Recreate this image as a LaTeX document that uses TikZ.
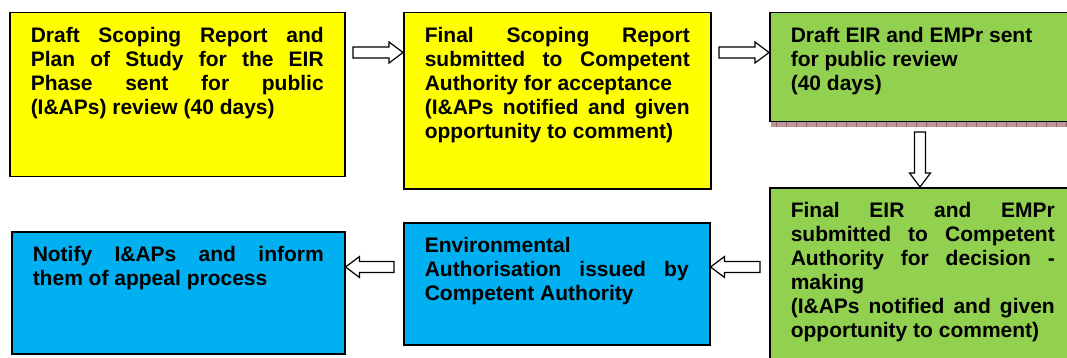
\documentclass[tikz,border=0pt]{standalone}
\usepackage{fontspec}
\setmainfont{Liberation Sans}
\usetikzlibrary{calc}

\definecolor{stageyellow}{RGB}{255,255,0}
\definecolor{stagegreen}{RGB}{146,208,80}
\definecolor{stageblue}{RGB}{0,176,240}
\definecolor{ledge}{RGB}{190,150,152}
\definecolor{ledgeline}{RGB}{140,100,100}

% top-aligned, justified box text; first baseline 30pt below the top
\newcommand{\stagetext}[3]{\parbox[t][#2][t]{#1}{\rule{0pt}{30pt}#3}}
% hollow block arrow from #1 to the tip #2
\newcommand{\flowarrow}[2]{%
  \draw[flow] let \p1=(#1), \p2=(#2), \n1={atan2(\y2-\y1,\x2-\x1)}, \n2={veclen(\x2-\x1,\y2-\y1)} in
    [shift={(\p1)}, rotate=\n1] (0,-5.5) -- (\n2-14,-5.5) -- (\n2-14,-10.5) -- (\n2,0)
    -- (\n2-14,10.5) -- (\n2-14,5.5) -- (0,5.5) -- cycle;}

\begin{document}
\begin{tikzpicture}[x=1pt,y=-1pt,
  stage/.style={draw=black,line width=1.5pt,anchor=north west,inner xsep=21pt,inner ysep=0pt,
    font=\bfseries\fontsize{21}{24}\selectfont},
  flow/.style={draw=black,line width=1.2pt,fill=white,line join=miter}]
  \useasboundingbox (0,0) rectangle (1067,358);
  % top row
  \node[stage,fill=stageyellow] (s1) at (9,12) {\stagetext{293pt}{164pt}{Draft Scoping Report and\linebreak
    Plan of Study for the EIR\linebreak Phase sent for public\linebreak (I\&APs) review (40 days)}};
  \node[stage,fill=stageyellow] (s2) at (403,12) {\stagetext{265pt}{176pt}{Final Scoping Report\linebreak
    submitted to Competent\linebreak Authority for acceptance\\ (I\&APs notified and given\linebreak
    opportunity to comment)}};
  \fill[ledge] (771,121) rectangle (1075,127);
  \foreach \x in {776,786,...,1066} {\draw[ledgeline,line width=0.8pt] (\x,121) -- (\x,127);}
  \node[stage,fill=stagegreen] (s3) at (769,12) {\stagetext{264pt}{109pt}{Draft EIR and EMPr sent\\
    for public review\\ (40 days)}};
  % bottom row
  \node[stage,fill=stagegreen] (s4) at (769,187) {\stagetext{264pt}{180pt}{Final EIR and EMPr\linebreak
    submitted to Competent\linebreak Authority for decision -\linebreak making\\
    (I\&APs notified and given\linebreak opportunity to comment)}};
  \node[stage,fill=stageblue] (s5) at (403,222) {\stagetext{264pt}{122pt}{Environmental\\
    Authorisation issued by\linebreak Competent Authority}};
  \node[stage,fill=stageblue] (s6) at (11,231) {\stagetext{291pt}{122pt}{Notify I\&APs and inform\linebreak
    them of appeal process}};
  % arrow tails
  \coordinate (a12) at (353,52.5);
  \coordinate (a23) at (719,52.5);
  \coordinate (a34) at (920,132);
  \coordinate (a45) at (760,267);
  \coordinate (a56) at (394,267);
  \flowarrow{a12}{s2.west |- a12}
  \flowarrow{a23}{s3.west |- a23}
  \flowarrow{a34}{a34 |- s4.north}
  \flowarrow{a45}{s5.east |- a45}
  \flowarrow{a56}{s6.east |- a56}
\end{tikzpicture}
\end{document}
